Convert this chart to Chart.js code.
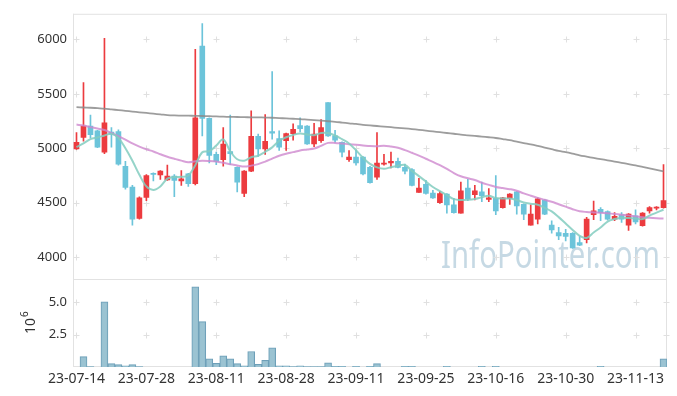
<!DOCTYPE html>
<html>
<head>
<meta charset="utf-8">
<script src="https://cdn.jsdelivr.net/npm/chart.js@4.4.0/dist/chart.umd.min.js"></script>
<style>
  html, body { margin: 0; padding: 0; background: #fff; }
</style>
</head>
<body>
<canvas id="chart" width="677" height="396"></canvas>
<script>
// trading days shown on the chart
const dates = [
  '23-07-14','23-07-17','23-07-18','23-07-19','23-07-20','23-07-21','23-07-24','23-07-25','23-07-26','23-07-27',
  '23-07-28','23-07-31','23-08-01','23-08-02','23-08-03','23-08-04','23-08-07','23-08-08','23-08-09','23-08-10',
  '23-08-11','23-08-14','23-08-16','23-08-17','23-08-18','23-08-21','23-08-22','23-08-23','23-08-24','23-08-25',
  '23-08-28','23-08-29','23-08-30','23-08-31','23-09-01','23-09-04','23-09-05','23-09-06','23-09-07','23-09-08',
  '23-09-11','23-09-12','23-09-13','23-09-14','23-09-15','23-09-18','23-09-19','23-09-20','23-09-21','23-09-22',
  '23-09-25','23-09-26','23-09-27','23-10-04','23-10-05','23-10-06','23-10-10','23-10-11','23-10-12','23-10-13',
  '23-10-16','23-10-17','23-10-18','23-10-19','23-10-20','23-10-23','23-10-24','23-10-25','23-10-26','23-10-27',
  '23-10-30','23-10-31','23-11-01','23-11-02','23-11-03','23-11-06','23-11-07','23-11-08','23-11-09','23-11-10',
  '23-11-13','23-11-14','23-11-15','23-11-16','23-11-17'
];

const open = [
  4995,5100,5205,5160,4965,5150,5155,4835,4645,4355,
  4550,4770,4755,4710,4745,4700,4765,4675,5940,5275,
  4945,4895,4970,4825,4585,4790,5110,4995,5155,5090,
  5070,5135,5210,5205,5040,5070,5420,5115,5055,4895,
  4920,4920,4825,4735,4855,4865,4880,4825,4805,4595,
  4670,4590,4500,4580,4480,4405,4635,4575,4600,4530,
  4540,4455,4540,4600,4485,4295,4350,4525,4295,4225,
  4220,4220,4135,4160,4390,4440,4420,4350,4390,4295,
  4380,4290,4425,4450,4455
];
const high = [
  5145,5605,5305,5165,6010,5190,5170,4880,4660,4555,
  4760,4775,4795,4845,4760,4795,4770,5910,6145,5280,
  4965,5190,5305,4830,4795,5345,5130,5310,5705,5160,
  5140,5225,5280,5210,5230,5265,5420,5165,5060,4980,
  4985,4925,4835,5145,4945,4965,4910,4855,4815,4725,
  4705,4615,4605,4585,4540,4690,4715,4660,4690,4630,
  4750,4550,4585,4605,4490,4480,4545,4530,4335,4275,
  4255,4225,4190,4365,4515,4455,4425,4410,4410,4400,
  4435,4410,4465,4465,4850
];
const low = [
  4990,5065,5095,5005,4950,5010,4845,4625,4295,4350,
  4520,4700,4715,4705,4555,4660,4650,4665,5115,4865,
  4850,4835,4850,4600,4555,4785,4925,4945,5085,4980,
  4980,5075,5150,5035,5015,5055,5110,5055,4920,4880,
  4845,4755,4680,4715,4845,4820,4820,4765,4655,4595,
  4580,4540,4495,4405,4405,4405,4520,4525,4510,4510,
  4390,4450,4485,4395,4345,4295,4305,4390,4220,4160,
  4150,4080,4105,4130,4345,4335,4340,4335,4320,4245,
  4305,4285,4405,4435,4450
];
const close = [
  5055,5205,5125,5010,5235,5130,4855,4640,4350,4545,
  4750,4760,4790,4745,4705,4720,4675,5280,5275,4935,
  4880,5040,4950,4690,4790,5110,4995,5065,5140,5010,
  5135,5175,5180,5040,5130,5190,5115,5075,4965,4920,
  4865,4765,4685,4865,4865,4880,4825,4790,4660,4635,
  4585,4545,4585,4480,4410,4610,4535,4610,4565,4545,
  4425,4545,4580,4470,4395,4395,4535,4395,4250,4195,
  4190,4085,4110,4350,4425,4410,4350,4375,4350,4395,
  4325,4405,4455,4455,4520
];

// traded shares
const volume = [
  0,800000,30000,0,5050000,260000,180000,100000,180000,30000,
  0,0,0,0,0,0,0,6200000,3510000,640000,
  280000,870000,640000,260000,100000,1200000,200000,510000,1490000,100000,
  100000,30000,100000,30000,30000,30000,330000,50000,50000,0,
  50000,0,50000,260000,0,0,0,50000,50000,0,
  0,0,0,50000,0,0,0,0,50000,0,
  50000,0,0,0,0,0,0,0,0,0,
  0,0,0,0,0,50000,0,0,0,0,
  0,0,0,0,640000
];

// moving averages as drawn
const ma5 = [
  5010,5045,5085,5100,5118,5134,5095,5000,4886,4757,
  4650,4618,4650,4721,4736,4738,4750,4845,4964,4973,
  5025,5082,4973,4900,4886,4918,4932,4968,5009,5068,
  5102,5123,5136,5127,5121,5141,5141,5118,5084,5045,
  4982,4914,4857,4825,4812,4827,4841,4847,4793,4745,
  4695,4645,4607,4570,4533,4525,4527,4534,4550,4564,
  4543,4539,4539,4525,4503,4491,4482,4453,4421,4368,
  4309,4250,4196,4177,4227,4273,4327,4350,4362,4359,
  4355,4350,4382,4409,4436
];
const ma20 = [
  5218,5209,5195,5182,5168,5141,5112,5080,5045,5016,
  4991,4971,4946,4922,4904,4887,4873,4882,4887,4884,
  4878,4867,4854,4843,4832,4841,4855,4878,4905,4932,
  4951,4965,4980,4989,4998,5023,5050,5050,5044,5038,
  5033,5027,5021,5020,5024,5016,5005,4984,4959,4933,
  4904,4876,4845,4811,4773,4743,4725,4709,4684,4664,
  4645,4635,4625,4611,4586,4565,4545,4527,4509,4486,
  4464,4441,4422,4415,4411,4408,4403,4397,4390,4384,
  4375,4367,4362,4358,4355
];
const ma60 = [
  5378,5375,5373,5369,5365,5358,5351,5345,5338,5331,
  5325,5318,5312,5305,5302,5301,5300,5299,5297,5295,
  5293,5291,5289,5288,5286,5285,5284,5283,5281,5278,
  5275,5272,5269,5264,5259,5254,5249,5244,5237,5230,
  5224,5216,5210,5205,5199,5194,5188,5183,5177,5170,
  5163,5155,5148,5141,5134,5126,5120,5114,5108,5102,
  5095,5085,5075,5061,5048,5036,5022,5007,4992,4977,
  4965,4951,4936,4924,4912,4901,4890,4878,4867,4855,
  4843,4829,4815,4801,4788
];

const priceTicks = [4000, 4500, 5000, 5500, 6000];
const volumeTicks = [2500000, 5000000];

const UP = '#ec3b3f';
const DOWN = '#6cc4da';
const candleColors = close.map((c, i) => c >= open[i] ? UP : DOWN);

// frame, cross marks, watermark and the 10^6 label
const decor = {
  id: 'decor',
  beforeDatasetsDraw(chart) {
    const { ctx, chartArea: a, scales } = chart;
    const yv = scales.yv;
    ctx.save();

    // watermark
    ctx.font = '38px "Noto Sans"';
    ctx.fillStyle = 'rgba(176,202,218,0.72)';
    ctx.textBaseline = 'alphabetic';
    const wm = 'InfoPointer.com';
    const w = ctx.measureText(wm).width;
    ctx.translate(441, 268);
    ctx.scale(219 / w, 1);
    ctx.fillText(wm, 0, 0);
    ctx.setTransform(1, 0, 0, 1, 0, 0);

    // frame lines
    ctx.strokeStyle = '#e2e2e2';
    ctx.lineWidth = 1;
    ctx.beginPath();
    ctx.moveTo(a.left + 0.5, a.top);
    ctx.lineTo(a.left + 0.5, a.bottom);
    ctx.moveTo(a.right - 0.5, a.top);
    ctx.lineTo(a.right - 0.5, a.bottom);
    ctx.moveTo(a.left, a.top + 0.5);
    ctx.lineTo(a.right, a.top + 0.5);
    ctx.moveTo(a.left, Math.round(yv.top) + 0.5);
    ctx.lineTo(a.right, Math.round(yv.top) + 0.5);
    ctx.moveTo(a.left, Math.round(a.bottom) - 0.5);
    ctx.lineTo(a.right, Math.round(a.bottom) - 0.5);
    ctx.stroke();

    // small crosses where grid lines would meet
    const xs = [];
    dates.forEach((d, i) => { if (i % 10 === 0) xs.push(scales.x.getPixelForValue(i)); });
    xs.push(a.right - 1);
    const ys = priceTicks.map(v => scales.y.getPixelForValue(v))
      .concat(volumeTicks.map(v => yv.getPixelForValue(v)));
    ctx.strokeStyle = '#e0e0e0';
    ctx.beginPath();
    xs.forEach(px => {
      ys.forEach(py => {
        const cx = Math.round(px) + 0.5, cy = Math.round(py) + 0.5;
        ctx.moveTo(cx - 3, cy); ctx.lineTo(cx + 3, cy);
        ctx.moveTo(cx, cy - 3); ctx.lineTo(cx, cy + 3);
      });
    });
    ctx.stroke();
    ctx.restore();
  },
  afterDraw(chart) {
    const { ctx, scales } = chart;
    const yv = scales.yv;
    const cy = (yv.top + yv.bottom) / 2;
    ctx.save();
    ctx.translate(35, cy);
    ctx.rotate(-Math.PI / 2);
    ctx.fillStyle = '#333';
    ctx.textBaseline = 'alphabetic';
    ctx.font = '14px "Noto Sans"';
    const t = ctx.measureText('10').width;
    ctx.fillText('10', -t / 2 - 3, 0);
    ctx.font = '10px "Noto Sans"';
    ctx.fillText('6', t / 2 - 2, -7);
    ctx.restore();
  }
};

const tickFont = { family: 'Noto Sans', size: 13 };

new Chart(document.getElementById('chart'), {
  data: {
    labels: dates,
    datasets: [
      { type: 'line', label: 'MA5', data: ma5, yAxisID: 'y', borderColor: 'rgba(130,205,192,0.85)',
        borderWidth: 2, pointRadius: 0, tension: 0.35, order: 0 },
      { type: 'line', label: 'MA20', data: ma20, yAxisID: 'y', borderColor: 'rgba(206,136,206,0.8)',
        borderWidth: 2, pointRadius: 0, tension: 0.35, order: 0 },
      { type: 'line', label: 'MA60', data: ma60, yAxisID: 'y', borderColor: 'rgba(140,140,140,0.85)',
        borderWidth: 1.8, pointRadius: 0, tension: 0.35, order: 0 },
      { type: 'bar', label: 'body', data: dates.map((d, i) => [open[i], close[i]]), yAxisID: 'y',
        backgroundColor: candleColors, barThickness: 5, minBarLength: 1, grouped: false, order: 1 },
      { type: 'bar', label: 'wick', data: dates.map((d, i) => [low[i], high[i]]), yAxisID: 'y',
        backgroundColor: candleColors, barThickness: 1, grouped: false, order: 2 },
      { type: 'bar', label: 'volume', data: volume, yAxisID: 'yv',
        backgroundColor: 'rgba(150,192,208,0.95)', borderColor: '#6d9fb8', borderWidth: 1,
        barPercentage: 1, categoryPercentage: 1, grouped: false, order: 3 }
    ]
  },
  options: {
    responsive: false,
    animation: false,
    devicePixelRatio: 1,
    layout: { padding: { top: 10, right: 10, bottom: 0, left: 0 } },
    plugins: { legend: { display: false }, tooltip: { enabled: false } },
    scales: {
      x: {
        type: 'category',
        offset: true,
        grid: { display: false, drawTicks: false },
        border: { display: false },
        ticks: {
          autoSkip: false, maxRotation: 0, padding: 4, color: '#333',
          font: { family: 'Noto Sans', size: 14 },
          callback: (v, i) => (i % 10 === 0 ? dates[i] : null)
        },
        afterFit: s => { s.height = 29; }
      },
      yv: {
        position: 'left', stack: 'panes', stackWeight: 89,
        min: 0, max: 6820000,
        afterBuildTicks: s => { s.ticks = volumeTicks.map(v => ({ value: v })); },
        grid: { display: false, drawTicks: false },
        border: { display: false },
        ticks: { padding: 6, color: '#333', font: tickFont, callback: v => (v / 1e6).toFixed(1) },
        afterFit: s => { s.width = 73; }
      },
      y: {
        position: 'left', stack: 'panes', stackWeight: 268,
        min: 3800, max: 6236,
        afterBuildTicks: s => { s.ticks = priceTicks.map(v => ({ value: v })); },
        grid: { display: false, drawTicks: false },
        border: { display: false },
        ticks: { padding: 6, color: '#333', font: tickFont, callback: v => String(v) },
        afterFit: s => { s.width = 73; }
      }
    }
  },
  plugins: [decor]
});
</script>
</body>
</html>
